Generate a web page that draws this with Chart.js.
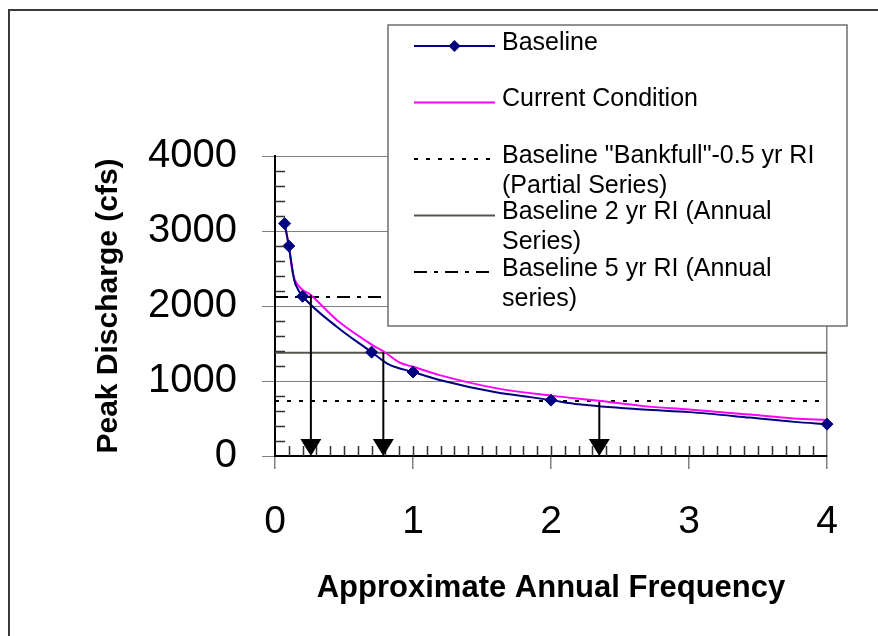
<!DOCTYPE html>
<html>
<head>
<meta charset="utf-8">
<script src="https://cdn.jsdelivr.net/npm/chart.js@4.4.1/dist/chart.umd.min.js"></script>
<style>
  body { margin: 0; background: #fff; }
  #wrap { position: relative; width: 878px; height: 636px; }
  #frame { position: absolute; left: 8px; top: 9px; right: -4px; bottom: -4px;
           border-left: 2px solid #3a3a3a; border-top: 2px solid #3a3a3a; }
  canvas { position: absolute; left: 0; top: 0; }
</style>
</head>
<body>
<div id="wrap">
  <div id="frame"></div>
  <canvas id="chart" width="878" height="636"></canvas>
</div>
<script>
// values
const seriesNames = [
  "Baseline",
  "Current Condition",
  "Baseline \"Bankfull\"-0.5 yr RI (Partial Series)",
  "Baseline 2 yr RI (Annual Series)",
  "Baseline 5 yr RI (Annual series)",
];

const baseFreq = [0.07, 0.1, 0.14, 0.17, 0.2, 0.45, 0.7, 0.82, 1.0, 1.2, 1.6, 1.85, 2.0, 2.2, 2.67, 3.0, 3.44, 3.76, 4.0];
const baseQ    = [3100, 2800, 2340, 2210, 2130, 1720, 1385, 1225, 1120, 1010, 850, 785, 745, 690, 620, 585, 512, 455, 425];
const baseMarkerFreq = [0.07, 0.1, 0.2, 0.7, 1.0, 2.0, 4.0];

const curFreq = [0.07, 0.1, 0.13, 0.19, 0.25, 0.45, 0.71, 0.79, 0.91, 1.0, 1.2, 1.6, 2.0, 2.36, 2.67, 3.0, 3.44, 3.76, 4.0];
const curQ    = [3100, 2800, 2430, 2230, 2160, 1810, 1475, 1390, 1240, 1190, 1075, 905, 805, 733, 665, 620, 552, 500, 480];

const refFreq = [0, 4];
const bankfullQ = 735;
const twoYrQ = 1378;
const fiveYrQ = 2120;

// arrows dropped from the curve down to the frequency axis
const arrowFreq = [0.26, 0.785, 2.35];
const arrowTopQ = [2150, 1385, 720];

const xTicks = [0, 1, 2, 3, 4];
const yTicks = [0, 1000, 2000, 3000, 4000];

const FONT = "'Liberation Sans', Arial, sans-serif";
const GRID = "#808080";

function pts(xs, ys) {
  return xs.map((x, i) => ({ x: x, y: ys[i] }));
}
function flat(q) {
  return refFreq.map(x => ({ x: x, y: q }));
}

// minor ticks, arrows and the boxed legend
const extras = {
  id: "extras",
  afterDatasetsDraw(chart) {
    const { ctx } = chart;
    const x = chart.scales.x, y = chart.scales.y;
    ctx.save();
    ctx.strokeStyle = "#333";
    ctx.lineWidth = 1.5;
    ctx.beginPath();
    for (let v = 200; v < 4000; v += 200) {
      if (v % 1000 === 0) continue;
      const py = Math.round(y.getPixelForValue(v)) + 0.5;
      ctx.moveTo(x.left, py);
      ctx.lineTo(x.left + 10, py);
    }
    for (let i = 1; i < 40; i++) {
      const px = Math.round(x.getPixelForValue(i / 10)) + 0.5;
      ctx.moveTo(px, y.bottom);
      ctx.lineTo(px, y.bottom - 10);
    }
    ctx.stroke();

    // arrows
    ctx.strokeStyle = "#000";
    ctx.fillStyle = "#000";
    ctx.lineWidth = 2;
    arrowFreq.forEach((f, i) => {
      const px = x.getPixelForValue(f);
      const top = y.getPixelForValue(arrowTopQ[i]);
      const tip = y.getPixelForValue(0);
      ctx.beginPath();
      ctx.moveTo(px, top);
      ctx.lineTo(px, tip - 15);
      ctx.stroke();
      ctx.beginPath();
      ctx.moveTo(px - 10.5, tip - 17);
      ctx.lineTo(px + 10.5, tip - 17);
      ctx.lineTo(px, tip);
      ctx.closePath();
      ctx.fill();
    });
    ctx.restore();
  },
  afterDraw(chart) {
    const { ctx } = chart;
    const box = { left: 388, top: 25, right: 847, bottom: 326 };
    ctx.save();
    ctx.fillStyle = "#fff";
    ctx.fillRect(box.left, box.top, box.right - box.left, box.bottom - box.top);
    ctx.strokeStyle = "#6e6e6e";
    ctx.lineWidth = 1.5;
    ctx.strokeRect(box.left, box.top, box.right - box.left, box.bottom - box.top);

    ctx.font = "25px " + FONT;
    ctx.textBaseline = "middle";
    ctx.textAlign = "left";
    const sx1 = 414, sx2 = 495, tx = 502, maxW = box.right - tx - 4;
    chart.data.datasets.forEach((ds, i) => {
      const rowY = 43 + i * 56.5;
      const sy = rowY + 3;
      ctx.save();
      ctx.strokeStyle = ds.borderColor;
      ctx.lineWidth = ds.borderWidth;
      ctx.setLineDash(ds.borderDash || []);
      ctx.beginPath();
      ctx.moveTo(sx1, sy);
      ctx.lineTo(sx2, sy);
      ctx.stroke();
      ctx.restore();
      if (ds.pointStyle === "rectRot") {
        const cx = (sx1 + sx2) / 2, r = 6;
        ctx.fillStyle = ds.pointBackgroundColor;
        ctx.beginPath();
        ctx.moveTo(cx - r, sy);
        ctx.lineTo(cx, sy - r);
        ctx.lineTo(cx + r, sy);
        ctx.lineTo(cx, sy + r);
        ctx.closePath();
        ctx.fill();
      }
      // wrap label text like the original legend
      const words = ds.label.split(" ");
      const lines = [];
      let cur = "";
      words.forEach(w => {
        const test = cur ? cur + " " + w : w;
        if (ctx.measureText(test).width > maxW && cur) {
          lines.push(cur);
          cur = w;
        } else {
          cur = test;
        }
      });
      lines.push(cur);
      ctx.fillStyle = "#000";
      lines.forEach((l, k) => ctx.fillText(l, tx, rowY + k * 30));
    });
    ctx.restore();
  }
};

new Chart(document.getElementById("chart"), {
  type: "scatter",
  data: {
    datasets: [
      {
        label: seriesNames[0],
        data: pts(baseFreq, baseQ),
        showLine: true,
        borderColor: "#000080",
        borderWidth: 2,
        pointStyle: "rectRot",
        pointBackgroundColor: "#000080",
        pointBorderColor: "#000080",
        pointBorderWidth: 1,
        pointRadius: c => (c.raw && baseMarkerFreq.includes(c.raw.x)) ? 6 : 0,
        cubicInterpolationMode: "monotone",
        clip: false,
        order: 0,
      },
      {
        label: seriesNames[1],
        data: pts(curFreq, curQ),
        showLine: true,
        borderColor: "#ff00ff",
        borderWidth: 2,
        pointRadius: 0,
        cubicInterpolationMode: "monotone",
        order: 1,
      },
      {
        label: seriesNames[2],
        data: flat(bankfullQ),
        showLine: true,
        borderColor: "#000",
        borderWidth: 2,
        borderDash: [4, 8],
        pointRadius: 0,
        order: 2,
      },
      {
        label: seriesNames[3],
        data: flat(twoYrQ),
        showLine: true,
        borderColor: "#55554d",
        borderWidth: 2,
        pointRadius: 0,
        order: 2,
      },
      {
        label: seriesNames[4],
        data: flat(fiveYrQ),
        showLine: true,
        borderColor: "#000",
        borderWidth: 2,
        borderDash: [13, 7, 4, 7],
        pointRadius: 0,
        order: 2,
      },
    ],
  },
  options: {
    responsive: false,
    animation: false,
    layout: { padding: { top: 156, right: 51, left: 0, bottom: 0 } },
    plugins: {
      legend: { display: false },
      tooltip: { enabled: false },
    },
    scales: {
      x: {
        type: "linear",
        min: 0,
        max: 4,
        afterFit: s => { s.height = 180; },
        afterBuildTicks: s => { s.ticks = xTicks.map(v => ({ value: v })); },
        border: { color: "#000", width: 2 },
        grid: {
          color: c => (c.tick && c.tick.value === 4) ? GRID : "rgba(0,0,0,0)",
          tickColor: GRID,
          tickLength: 13,
          lineWidth: 1.5,
        },
        ticks: {
          color: "#000",
          font: { family: FONT, size: 39 },
          padding: 30,
          maxRotation: 0,
          autoSkip: false,
          callback: v => String(v),
        },
        title: {
          display: true,
          text: "Approximate Annual Frequency",
          color: "#000",
          font: { family: FONT, size: 31, weight: "bold" },
          padding: { top: 0, bottom: 29 },
        },
      },
      y: {
        type: "linear",
        min: 0,
        max: 4000,
        afterFit: s => { s.width = 275; },
        afterBuildTicks: s => { s.ticks = yTicks.map(v => ({ value: v })); },
        border: { color: "#000", width: 2 },
        grid: {
          color: GRID,
          tickColor: GRID,
          tickLength: 13,
          lineWidth: 1,
        },
        ticks: {
          color: "#000",
          font: { family: FONT, size: 40 },
          padding: 25,
          callback: v => String(v),
        },
        title: {
          display: true,
          text: "Peak Discharge (cfs)",
          color: "#000",
          font: { family: FONT, size: 30, weight: "bold" },
          padding: { top: 91, bottom: 0 },
        },
      },
    },
  },
  plugins: [extras],
});
</script>
</body>
</html>
